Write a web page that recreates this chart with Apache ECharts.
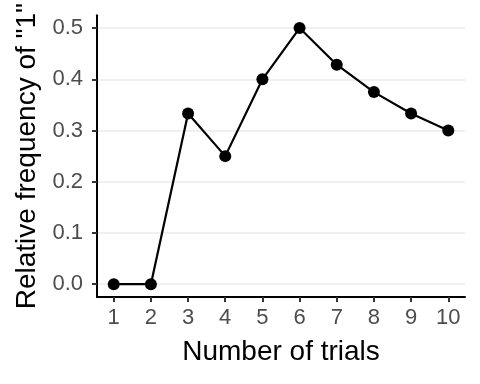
<!DOCTYPE html>
<html>
<head>
<meta charset="utf-8">
<script src="https://cdn.jsdelivr.net/npm/echarts@6/dist/echarts.min.js"></script>
<style>html,body{margin:0;padding:0;background:#fff}#c{width:480px;height:384px}</style>
</head>
<body>
<div id="c"></div>
<script>
const trials = [1, 2, 3, 4, 5, 6, 7, 8, 9, 10];
const relFreq = [0, 0, 1/3, 0.25, 0.4, 0.5, 3/7, 0.375, 1/3, 0.3];
const xTicks = [1, 2, 3, 4, 5, 6, 7, 8, 9, 10];
const yTicks = [0, 0.1, 0.2, 0.3, 0.4, 0.5];

const chart = echarts.init(document.getElementById('c'), null, {renderer: 'canvas'});
const font = 'Liberation Sans, Arial, Helvetica, sans-serif';
chart.setOption({
  animation: false,
  backgroundColor: '#ffffff',
  grid: {left: 97, right: 15, top: 15, bottom: 87, containLabel: false},
  xAxis: {
    type: 'value',
    min: 0.55, max: 10.45,
    name: 'Number of trials',
    nameLocation: 'middle',
    nameGap: 41,
    nameTextStyle: {color: '#000', fontSize: 28, fontFamily: font, verticalAlign: 'top'},
    axisLine: {show: true, onZero: false, lineStyle: {color: '#000', width: 2}},
    axisTick: {show: true, inside: false, length: 5, lineStyle: {color: '#333', width: 2}, customValues: xTicks},
    axisLabel: {color: '#4d4d4d', fontSize: 22, fontFamily: font, margin: 10, customValues: xTicks,
      formatter: v => String(v)},
    splitLine: {show: false}
  },
  yAxis: {
    type: 'value',
    min: -0.025, max: 0.525,
    name: 'Relative frequency of "1"',
    nameLocation: 'middle',
    nameGap: 52,
    nameTextStyle: {color: '#000', fontSize: 28, fontFamily: font},
    axisLine: {show: true, onZero: false, lineStyle: {color: '#000', width: 2}},
    axisTick: {show: true, inside: false, length: 5, lineStyle: {color: '#333', width: 2}, customValues: yTicks},
    axisLabel: {color: '#4d4d4d', fontSize: 22, fontFamily: font, margin: 14, customValues: yTicks,
      formatter: v => v.toFixed(1)},
    splitLine: {show: true, lineStyle: {color: '#ebebeb', width: 1.5}}
  },
  series: [{
    type: 'line',
    data: trials.map((t, i) => [t, relFreq[i]]),
    symbol: 'circle',
    symbolSize: 12,
    lineStyle: {color: '#000', width: 2.2},
    itemStyle: {color: '#000'},
    clip: false
  }]
});
</script>
</body>
</html>
